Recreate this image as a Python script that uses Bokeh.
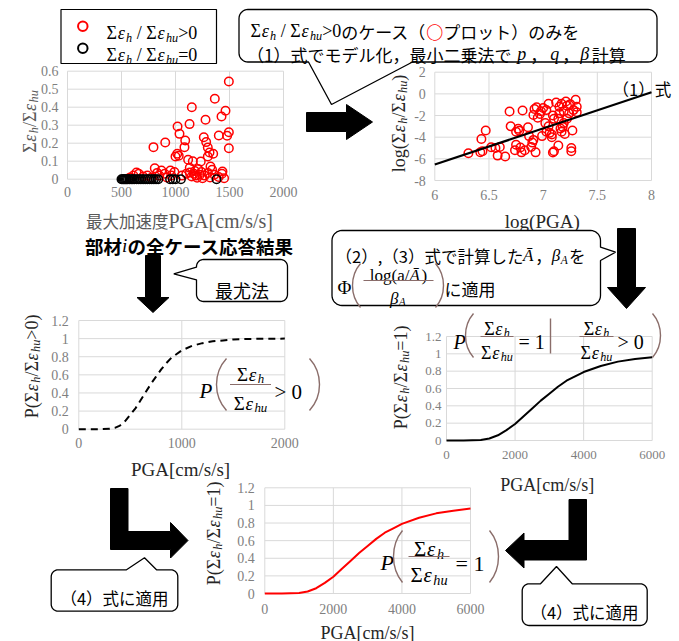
import math
from bokeh.plotting import figure
from bokeh.models import Range1d
from bokeh.core.properties import value
from bokeh.embed import file_html
from bokeh.resources import INLINE

# ---------------- data ----------------
# top-left: all cases, PGA vs ratio
tl_red_pga = [1494, 1364, 1151, 1463, 1426, 1278, 1130, 1019, 1037, 1262,
              1401, 1494, 1478, 1090, 1284, 905, 796, 1083, 1299, 1494,
              1315, 1349, 1016, 1000, 1030, 1299, 1234, 1117, 1160, 1324,
              1132, 1210, 1339, 1435, 808, 870, 953, 639, 1133, 1170,
              580, 610, 660, 700, 740, 780, 830, 850, 900, 920,
              960, 990, 1060, 1100, 1150, 1190, 1200, 1225, 1250, 1270,
              1300, 1320, 1360, 1400, 1430, 1450, 1180, 1240]
tl_red_ratio = [0.543, 0.447, 0.40, 0.38, 0.348, 0.33, 0.306, 0.293, 0.252, 0.233,
                0.243, 0.261, 0.241, 0.215, 0.206, 0.204, 0.178, 0.178, 0.176, 0.172,
                0.148, 0.141, 0.141, 0.126, 0.13, 0.126, 0.098, 0.108, 0.10, 0.07,
                0.063, 0.056, 0.052, 0.043, 0.061, 0.048, 0.048, 0.037, 0.037, 0.03,
                0.01, 0.02, 0.03, 0.015, 0.02, 0.01, 0.035, 0.02, 0.03, 0.01,
                0.02, 0.04, 0.02, 0.03, 0.015, 0.02, 0.008, 0.025, 0.005, 0.02,
                0.035, 0.01, 0.025, 0.012, 0.03, 0.005, 0.045, 0.04]
tl_black_pga = [500, 510, 520, 530, 540, 550, 560, 575, 590, 605, 620, 640, 660,
                680, 700, 720, 740, 760, 780, 800, 820, 840, 950, 975, 1000, 1050, 1380]
tl_black_ratio = [0.0] * len(tl_black_pga)
tl_xticks = [0, 500, 1000, 1500, 2000]
tl_xlabels = ["0", "500", "1000", "1500", "2000"]
tl_yticks = [0, 0.1, 0.2, 0.3, 0.4, 0.5, 0.6]
tl_ylabels = ["0", "0.1", "0.2", "0.3", "0.4", "0.5", "0.6"]

# top-right: log-log model fit
tr_log_pga = [6.31, 6.42, 6.44, 6.43, 6.47, 6.52, 6.56, 6.58, 6.60, 6.65,
              6.69, 6.70, 6.75, 6.77, 6.74, 6.79, 6.81, 6.80, 6.83, 6.86,
              6.87, 6.89, 6.90, 6.91, 6.93, 6.92, 6.94, 6.91, 6.97, 6.98,
              7.00, 7.03, 7.06, 7.08, 7.05, 7.09, 7.10, 7.09, 7.10, 7.05,
              7.14, 7.15, 7.15, 7.17, 7.14, 7.16, 7.17, 7.18, 7.19, 7.19,
              7.21, 7.22, 7.25, 7.27, 7.26, 7.26, 7.30, 7.31, 7.31, 7.28,
              7.12, 7.02, 6.95, 6.99, 7.22, 7.20, 7.24, 6.75, 6.78, 7.03, 7.08]
tr_log_ratio = [-5.48, -5.39, -5.30, -4.16, -3.39, -4.93, -5.00, -5.70, -4.90, -5.79,
                -1.63, -2.99, -4.70, -3.23, -5.20, -4.95, -1.54, -5.40, -5.20, -3.08,
                -3.90, -4.90, -4.50, -4.25, -5.40, -1.40, -1.24, -1.95, -1.85, -1.60,
                -1.30, -3.50, -3.60, -3.75, -3.00, -5.42, -5.30, -2.00, -2.30, -0.92,
                -2.30, -1.80, -1.20, -0.92, -4.77, -3.20, -3.50, -3.05, -2.70, -1.60,
                -0.70, -1.10, -0.95, -3.39, -5.00, -5.30, -0.55, -1.20, -1.70, -1.50,
                -0.80, -2.70, -2.20, -3.90, -2.30, -3.70, -1.80, -3.50, -3.40, -1.50, -4.00]
tr_fit_x = [6.0, 8.0]
tr_fit_y = [-6.53, 0.15]
tr_xticks = [6, 6.5, 7, 7.5, 8]
tr_xlabels = ["6", "6.5", "7", "7.5", "8"]
tr_yticks = [-8, -6, -4, -2, 0, 2]
tr_ylabels = ["-8", "-6", "-4", "-2", "0", "2"]

# middle-left: P(ratio > 0)
ml_pga = [0, 100, 200, 300, 350, 400, 450, 500, 550, 600, 650, 700, 750, 800, 850,
          900, 1000, 1100, 1200, 1300, 1400, 1500, 1600, 1800, 2000]
ml_prob = [0, 0, 0, 0.005, 0.015, 0.04, 0.09, 0.16, 0.23, 0.32, 0.41, 0.5, 0.58, 0.66, 0.73,
           0.79, 0.87, 0.92, 0.95, 0.97, 0.98, 0.99, 0.995, 0.999, 1.0]
ml_xticks = [0, 1000, 2000]
ml_xlabels = ["0", "1000", "2000"]

# middle-right and bottom: P(ratio = 1 | ...) and P(ratio = 1)
mr_pga = [0, 500, 1000, 1250, 1500, 1750, 2000, 2250, 2500, 2750, 3000, 3250, 3500,
          3750, 4000, 4500, 5000, 5500, 6000]
mr_prob = [0, 0, 0.006, 0.023, 0.06, 0.12, 0.19, 0.28, 0.37, 0.46, 0.54, 0.62, 0.69,
           0.74, 0.79, 0.86, 0.91, 0.94, 0.96]
bt_pga = [0, 500, 1000, 1250, 1500, 1750, 2000, 2250, 2500, 2750, 3000, 3250, 3500,
          3750, 4000, 4500, 5000, 5500, 6000]
bt_prob = [0, 0, 0.006, 0.023, 0.06, 0.12, 0.19, 0.28, 0.37, 0.46, 0.54, 0.62, 0.69,
           0.74, 0.79, 0.86, 0.91, 0.94, 0.965]
big_xticks = [0, 2000, 4000, 6000]
big_xlabels = ["0", "2000", "4000", "6000"]
p_yticks = [0, 0.2, 0.4, 0.6, 0.8, 1.0, 1.2]
p_ylabels = ["0", "0.2", "0.4", "0.6", "0.8", "1", "1.2"]

# ---------------- styles ----------------
SERIF = "Liberation Serif"
JP = "Noto Sans CJK JP"
GAP = "gap"
TICK = "#7f7f7f"
GRID = "#d9d9d9"
BROWN = "#8a6d6a"
INK = "#262626"
GREY = "#595959"
K = "black"

p = figure(width=679, height=641, x_range=Range1d(0, 679), y_range=Range1d(641, 0),
           output_backend="svg", toolbar_location=None, min_border=0,
           x_axis_location=None, y_axis_location=None, outline_line_color=None)
p.xgrid.grid_line_color = None
p.ygrid.grid_line_color = None
p.background_fill_color = "white"
p.border_fill_color = "white"

WID = {"Σ": 0.62, "ε": 0.47, "h": 0.5, "u": 0.5, " ": 0.25, "/": 0.28, ">": 0.56, "=": 0.56,
       "P": 0.56, "G": 0.72, "A": 0.72, "[": 0.33, "]": 0.33, "(": 0.33, ")": 0.33,
       "c": 0.44, "m": 0.78, "s": 0.39, "l": 0.28, "o": 0.5, "g": 0.5, "a": 0.44,
       ".": 0.25, "Φ": 0.76, "β": 0.52, "Ā": 0.72, "p": 0.5, "q": 0.5, "i": 0.28,
       "|": 0.2, ",": 0.25}


def tw(t, size, font):
    if font == GAP:
        return size
    w = 0.0
    for ch in t:
        if font == JP:
            w += 1.0 if ord(ch) > 0x2000 else (0.27 if ch in ",." else (0.33 if ch in "()" else 0.55))
        else:
            w += WID.get(ch, 0.5)
    return w * size


def T(text, size, font=SERIF, style="normal", dy=0.0, color=INK):
    return (text, size, font, style, dy, color)


def G(px):
    return ("", px, GAP, "normal", 0.0, K)


def runs(x, y, parts, align="left", rot=False):
    widths = [tw(t, s, f) for (t, s, f, st, dy, c) in parts]
    total = sum(widths)
    cur = -{"left": 0, "center": total / 2, "right": total}[align]
    for (t, s, f, st, dy, c), w in zip(parts, widths):
        shown = t.strip(" ")
        if f != GAP and shown:
            lead = tw(t[:len(t) - len(t.lstrip(" "))], s, f)
            pos = cur + lead
            if rot:
                px, py, ang = x + dy, y - pos, math.pi / 2
            else:
                px, py, ang = x + pos, y + dy, 0.0
            p.text(x=[px], y=[py], text=[shown], angle=ang, text_font=value(f),
                   text_font_size=f"{s:.1f}px", text_font_style=st, text_color=c,
                   text_align="left", text_baseline="alphabetic")
        cur += w


def SE(sub, size, color=INK):
    return [T("Σ", size, color=color), T("ε", size, style="italic", color=color),
            T(sub, size * 0.68, style="italic", dy=size * 0.25, color=color)]


def frac(cx, ybar, half, num, den, nb, db):
    runs(cx, ybar - nb, num, "center")
    p.segment(x0=[cx - half], y0=[ybar], x1=[cx + half], y1=[ybar], line_color=BROWN, line_width=1.2)
    runs(cx, ybar + db, den, "center")


def paren(xl, xr, ytop, ybot, opening=True):
    h = ybot - ytop
    d = (xr - xl) / 0.75
    if opening:
        xe, xc = xr, xr - d
    else:
        xe, xc = xl, xl + d
    p.bezier(x0=[xe], y0=[ytop], x1=[xe], y1=[ybot], cx0=[xc], cy0=[ytop + h * 0.28],
             cx1=[xc], cy1=[ybot - h * 0.28], line_color=BROWN, line_width=1.4)


def callout(x0, y0, x1, y1, r, side, a, b, tip):
    xs, ys = [], []

    def arc(cx, cy, t0, t1):
        for k in range(9):
            t = math.radians(t0 + (t1 - t0) * k / 8)
            xs.append(cx + r * math.cos(t))
            ys.append(cy + r * math.sin(t))
    arc(x0 + r, y0 + r, 180, 270)
    if side == "top":
        xs.extend([a, tip[0], b]); ys.extend([y0, tip[1], y0])
    arc(x1 - r, y0 + r, 270, 360)
    if side == "right":
        xs.extend([x1, tip[0], x1]); ys.extend([a, tip[1], b])
    arc(x1 - r, y1 - r, 0, 90)
    if side == "bottom":
        xs.extend([b, tip[0], a]); ys.extend([y1, tip[1], y1])
    arc(x0 + r, y1 - r, 90, 180)
    if side == "left":
        xs.extend([x0, tip[0], x0]); ys.extend([b, tip[1], a])
    p.patch(xs, ys, fill_color="white", line_color="black", line_width=1.3)


def block(pts):
    p.patch([q[0] for q in pts], [q[1] for q in pts], fill_color="black", line_color="black")


def chart(xsrc, ysrc, xt, yt, xticks, xlabels, yticks, ylabels, xoff, yoff, fs):
    sp = p.subplot(x_source=Range1d(*xsrc), y_source=Range1d(*ysrc),
                   x_target=Range1d(*xt), y_target=Range1d(*yt))
    n, m = len(yticks), len(xticks)
    sp.segment(x0=[xsrc[0]] * n, y0=yticks, x1=[xsrc[1]] * n, y1=yticks, line_color=GRID, line_width=1)
    sp.segment(x0=xticks, y0=[ysrc[0]] * m, x1=xticks, y1=[ysrc[1]] * m, line_color=GRID, line_width=1)
    sp.text(x=[xsrc[0]] * n, y=yticks, text=ylabels, x_offset=xoff, text_align="right",
            text_baseline="middle", text_font=value(SERIF), text_font_size=f"{fs}px", text_color=TICK)
    sp.text(x=xticks, y=[ysrc[0]] * m, text=xlabels, y_offset=yoff, text_align="center",
            text_baseline="top", text_font=value(SERIF), text_font_size=f"{fs}px", text_color=TICK)
    return sp


# ---------------- top-left chart ----------------
sp1 = chart((0, 2000), (0, 0.6), (67, 283), (178.7, 70.7), tl_xticks, tl_xlabels,
            tl_yticks, tl_ylabels, -9, 8, 14)
sp1.scatter(tl_red_pga, tl_red_ratio, marker="circle", size=8.5, fill_color=None,
            line_color="#ff0000", line_width=1.5)
sp1.scatter(tl_black_pga, tl_black_ratio, marker="circle", size=8.5, fill_color=None,
            line_color="black", line_width=1.5)
runs(29, 121, SE("h", 18, GREY) + [T("/", 18, color=GREY)] + SE("hu", 18, GREY), "center", rot=True)
runs(179, 220, [T("最大加速度", 16.5, JP, color=GREY), T("PGA[cm/s/s]", 20, color=GREY)], "center")
runs(189, 245, [T("部材", 18.5, JP, "bold", color=K), T("i", 19, style="italic", color=K),
                T("の全ケース応答結果", 18.5, JP, "bold", color=K)], "center")

# legend
p.quad(left=[60.5], right=[216], top=[9], bottom=[63], fill_color="white", line_color="black", line_width=1.2)
p.scatter([82.3], [25.7], marker="circle", size=9.5, fill_color=None, line_color="#ff0000", line_width=2)
p.scatter([82.3], [47.7], marker="circle", size=9.5, fill_color=None, line_color="black", line_width=2)
runs(106, 32.5, SE("h", 18, K) + [T(" / ", 18, color=K)] + SE("hu", 18, K) + [T(">0", 18, color=K)])
runs(106, 54.5, SE("h", 18, K) + [T(" / ", 18, color=K)] + SE("hu", 18, K) + [T("=0", 18, color=K)])

# ---------------- top callout + arrow ----------------
callout(238.5, 9, 656.5, 61.5, 9, "bottom", 308, 412, (331, 104))
runs(250, 30.5, SE("h", 18, K) + [T(" / ", 18, color=K)] + SE("hu", 18, K) +
     [T(">0", 18, color=K), T("のケース（", 17, JP, color=K), T("○", 17, JP, "bold", color="#ff0000"),
      T("プロット）のみを", 17, JP, color=K)])
runs(246.5, 53.5, [T("（1）式でモデル化，最小二乗法で", 17, JP, color=K), G(6),
                   T("p", 18, style="italic", color=K), G(4), T("，", 17, JP, color=K), G(3),
                   T("q", 18, style="italic", color=K), G(3), T("，", 17, JP, color=K), G(1),
                   T("β", 18, style="italic", color=K), G(2), T("計算", 17, JP, color=K)])
block([(306, 112), (346, 112), (346, 104), (372, 121.5), (346, 139), (346, 131), (306, 131)])

# ---------------- top-right chart ----------------
sp2 = chart((6, 8), (-8, 2), (434.3, 651), (180, 71.7), tr_xticks, tr_xlabels,
            tr_yticks, tr_ylabels, -9, 9, 14)
sp2.scatter(tr_log_pga, tr_log_ratio, marker="circle", size=8.5, fill_color=None,
            line_color="#ff0000", line_width=1.5)
sp2.line(tr_fit_x, tr_fit_y, line_color="black", line_width=2.2)
runs(612, 88, [T("（1）式", 16.5, JP, color=K)])
runs(398, 123, [T("log(", 18)] + SE("h", 18) + [T("/", 18)] + SE("hu", 18) + [T(")", 18)], "center", rot=True)
runs(541.7, 221, [T("log(PGA)", 19)], "center")

# ---------------- middle-left ----------------
block([(145, 255), (160, 255), (160, 297), (168.5, 297), (152.5, 312), (136.5, 297), (145, 297)])
callout(196, 259, 287, 301, 7, "left", 266.7, 279.3, (173.3, 273.3))
runs(241.5, 289, [T("最尤法", 18, JP, color=K)], "center")

sp3 = chart((0, 2000), (0, 1.2), (78.3, 284.3), (428.7, 320), ml_xticks, ml_xlabels,
            p_yticks, p_ylabels, -10, 9, 14)
sp3.line(ml_pga, ml_prob, line_color="black", line_width=2, line_dash="7 5")
runs(31, 366, [T("P(", 18)] + SE("h", 18) + [T("/", 18)] + SE("hu", 18) + [T(">0)", 18)], "center", rot=True)
runs(180, 469, [T("PGA[cm/s/s]", 19)], "center")
runs(199, 390, [T("P", 21, style="italic", color=K)])
paren(216, 226, 358, 410, True)
frac(250, 384, 20.5, SE("h", 19, K), SE("hu", 19, K), 10, 19)
runs(274, 391, [T("> 0", 21, color=K)])
paren(309, 319, 358, 410, False)

# ---------------- middle-right ----------------
block([(617, 228), (635, 228), (635, 287), (645, 287), (626, 308), (607, 287), (617, 287)])
callout(331.5, 230, 600, 305, 10, "right", 246.7, 260, (615, 251.7))
runs(335, 255, [T("（2）,（3）式で計算した", 16.5, JP, color=K), T("Ā", 17, style="italic", color=K),
                T("，", 16.5, JP, color=K), T("β", 17, style="italic", color=K),
                T("A", 11.5, style="italic", dy=4, color=K), T("を", 16.5, JP, color=K)])
runs(337, 287, [T("Φ", 19, color=K)])
paren(352, 360, 263, 307, True)
frac(398, 280, 35, [T("log(a/", 17, color=K), T("Ā", 17, style="italic", color=K), T(")", 17, color=K)],
     [T("β", 17, style="italic", color=K), T("A", 11.5, style="italic", dy=3.5, color=K)], 5, 18)
paren(435, 443, 263, 307, False)
runs(444, 288, [T("に適用", 17, JP, color=K)])

sp4 = chart((0, 6000), (0, 1.2), (446, 651.7), (440, 336), big_xticks, big_xlabels,
            p_yticks, p_ylabels, -5, 10, 13)
sp4.line(mr_pga, mr_prob, line_color="black", line_width=2)
runs(400, 377, [T("P(", 18)] + SE("h", 18) + [T("/", 18)] + SE("hu", 18) + [T("=1)", 18)], "center", rot=True)
runs(546.7, 484, [T("PGA[cm/s/s]", 18)], "center")
runs(453, 341, [T("P", 20, style="italic", color=K)])
paren(465, 473, 313, 357, True)
frac(496.5, 336, 16.5, SE("h", 18, K), SE("hu", 18, K), 8, 16)
runs(518, 341, [T("= 1", 20, color=K)])
p.segment(x0=[550], y0=[318], x1=[550], y1=[353], line_color=BROWN, line_width=1.4)
frac(596, 336, 17, SE("h", 18, K), SE("hu", 18, K), 8, 16)
runs(617, 341, [T("> 0", 20, color=K)])
paren(652, 660, 313, 357, False)

# ---------------- bottom ----------------
block([(110, 488), (127.5, 488), (127.5, 531), (170, 531), (170, 522), (187.5, 540),
       (170, 557.5), (170, 549), (110, 549)])
callout(50.7, 569.3, 177.3, 610.7, 7, "top", 126, 156, (144, 557.3))
runs(114, 597, [T("（4）式に適用", 16.5, JP, color=K)], "center")

block([(568.5, 499), (586, 499), (586, 559.5), (523.5, 559.5), (523.5, 567.5), (505, 550),
       (523.5, 532.5), (523.5, 540), (568.5, 540)])
callout(521.7, 583.3, 646.7, 625, 7, "top", 540, 571.7, (556, 566))
runs(584, 611, [T("（4）式に適用", 16.5, JP, color=K)], "center")

sp5 = chart((0, 6000), (0, 1.2), (264.3, 470), (593, 487.3), big_xticks, big_xlabels,
            p_yticks, p_ylabels, -10, 10, 14)
sp5.line(bt_pga, bt_prob, line_color="#ff0000", line_width=2)
runs(213, 533, [T("P(", 18)] + SE("h", 18) + [T("/", 18)] + SE("hu", 18) + [T("=1)", 18)], "center", rot=True)
runs(367, 632, [T("PGA[cm/s/s]", 18)], "center")
runs(380, 562, [T("P", 22, style="italic", color=K)])
paren(393, 402, 530, 582, True)
frac(428.5, 556, 20.5, SE("h", 21, K), SE("hu", 21, K), 8, 18)
runs(455, 563, [T("= 1", 22, color=K)])
paren(489, 498, 530, 582, False)

open("out.html", "w").write(file_html(p, INLINE))
